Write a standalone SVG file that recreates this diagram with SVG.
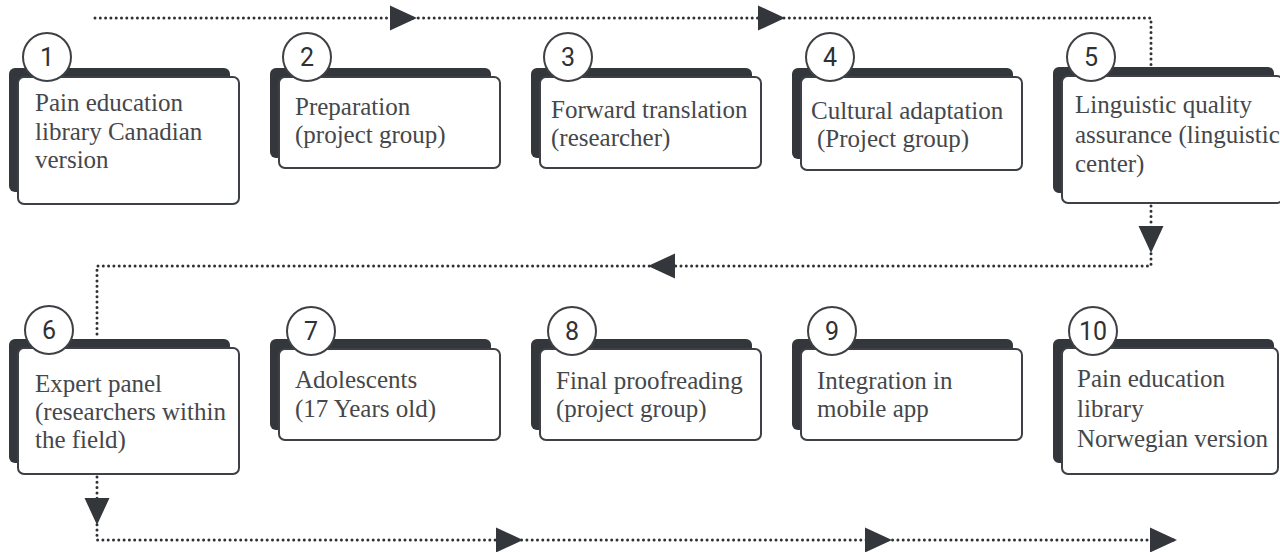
<svg xmlns="http://www.w3.org/2000/svg" width="1280" height="552" viewBox="0 0 1280 552">
<style>
.back{fill:#33373b;}
.card{fill:#fff;stroke:#3d4044;stroke-width:2;}
.badge{fill:#fff;stroke:#3d4044;stroke-width:2;}
.num{font-family:Roboto,"Noto Sans",sans-serif;font-size:25px;font-weight:400;fill:#2e3135;text-anchor:middle;}
.lbl{font-size:25px;fill:#45474a;}
.dot{fill:none;stroke:#2e3135;stroke-width:3;stroke-linecap:round;stroke-dasharray:0 5.3;}
.ah{fill:#33373b;}
</style>
<defs>
<path id="arr" d="M0,-12.5 L27,0 L0,12.5 Z"/>
</defs>
<rect width="1280" height="552" fill="#fff"/>
<g id="connectors">
<path class="dot" d="M95,18 H1151 V67"/>
<use href="#arr" class="ah" transform="translate(390,18)"/>
<use href="#arr" class="ah" transform="translate(758,18)"/>
<path class="dot" d="M1151,206 V266 H97 V339"/>
<use href="#arr" class="ah" transform="translate(1151,226) rotate(90)"/>
<use href="#arr" class="ah" transform="translate(675,266) rotate(180)"/>
<path class="dot" d="M97,477 V540 H1176"/>
<use href="#arr" class="ah" transform="translate(97,498) rotate(90)"/>
<use href="#arr" class="ah" transform="translate(496,540)"/>
<use href="#arr" class="ah" transform="translate(865,540)"/>
<use href="#arr" class="ah" transform="translate(1150,540)"/>
</g>
<g font-family="'Liberation Serif', 'Times New Roman', 'DejaVu Serif', serif">
<g id="node1">
<rect class="back" x="9" y="68" width="221" height="124" rx="6"/>
<rect class="card" x="18" y="77" width="221" height="127" rx="6"/>
<circle class="badge" cx="47" cy="57" r="24"/>
<text class="num" x="47" y="66">1</text>
<text class="lbl" x="35" y="111">Pain education</text>
<text class="lbl" x="35" y="140">library Canadian</text>
<text class="lbl" x="35" y="168">version</text>
</g>
<g id="node2">
<rect class="back" x="270" y="68" width="221" height="90" rx="6"/>
<rect class="card" x="279" y="77" width="221" height="91" rx="6"/>
<circle class="badge" cx="307" cy="57" r="24"/>
<text class="num" x="307" y="66">2</text>
<text class="lbl" x="295" y="115">Preparation</text>
<text class="lbl" x="295" y="143">(project group)</text>
</g>
<g id="node3">
<rect class="back" x="531" y="68" width="221" height="90" rx="6"/>
<rect class="card" x="540" y="77" width="221" height="91" rx="6"/>
<circle class="badge" cx="568" cy="57" r="24"/>
<text class="num" x="568" y="66">3</text>
<text class="lbl" x="551" y="118">Forward translation</text>
<text class="lbl" x="551" y="146">(researcher)</text>
</g>
<g id="node4">
<rect class="back" x="792" y="68" width="221" height="91" rx="6"/>
<rect class="card" x="801" y="77" width="221" height="93" rx="6"/>
<circle class="badge" cx="830" cy="57" r="24"/>
<text class="num" x="830" y="66">4</text>
<text class="lbl" x="811" y="119">Cultural adaptation</text>
<text class="lbl" x="817" y="147">(Project group)</text>
</g>
<g id="node5">
<rect class="back" x="1053" y="67" width="221" height="126" rx="6"/>
<rect class="card" x="1062" y="76" width="221" height="127" rx="6"/>
<circle class="badge" cx="1091" cy="57" r="24"/>
<text class="num" x="1091" y="66">5</text>
<text class="lbl" x="1075" y="113">Linguistic quality</text>
<text class="lbl" x="1075" y="143">assurance (linguistic</text>
<text class="lbl" x="1075" y="172">center)</text>
</g>
<g id="node6">
<rect class="back" x="9" y="339" width="221" height="124" rx="6"/>
<rect class="card" x="18" y="348" width="221" height="126" rx="6"/>
<circle class="badge" cx="49" cy="330" r="24"/>
<text class="num" x="49" y="339">6</text>
<text class="lbl" x="35" y="392">Expert panel</text>
<text class="lbl" x="35" y="420">(researchers within</text>
<text class="lbl" x="35" y="448">the field)</text>
</g>
<g id="node7">
<rect class="back" x="270" y="339" width="221" height="91" rx="6"/>
<rect class="card" x="279" y="349" width="221" height="91" rx="6"/>
<circle class="badge" cx="311" cy="331" r="24"/>
<text class="num" x="311" y="340">7</text>
<text class="lbl" x="295" y="388">Adolescents</text>
<text class="lbl" x="295" y="417">(17 Years old)</text>
</g>
<g id="node8">
<rect class="back" x="531" y="339" width="221" height="91" rx="6"/>
<rect class="card" x="540" y="349" width="221" height="91" rx="6"/>
<circle class="badge" cx="572" cy="331" r="24"/>
<text class="num" x="572" y="340">8</text>
<text class="lbl" x="556" y="389">Final proofreading</text>
<text class="lbl" x="556" y="417">(project group)</text>
</g>
<g id="node9">
<rect class="back" x="792" y="339" width="221" height="91" rx="6"/>
<rect class="card" x="801" y="349" width="221" height="91" rx="6"/>
<circle class="badge" cx="832" cy="331" r="24"/>
<text class="num" x="832" y="340">9</text>
<text class="lbl" x="817" y="389">Integration in</text>
<text class="lbl" x="817" y="417">mobile app</text>
</g>
<g id="node10">
<rect class="back" x="1053" y="339" width="221" height="124" rx="6"/>
<rect class="card" x="1062" y="348" width="216" height="126" rx="6"/>
<circle class="badge" cx="1093" cy="331" r="24"/>
<text class="num" x="1093" y="340">10</text>
<text class="lbl" x="1077" y="387">Pain education</text>
<text class="lbl" x="1077" y="417">library</text>
<text class="lbl" x="1077" y="447">Norwegian version</text>
</g>
</g>
</svg>
